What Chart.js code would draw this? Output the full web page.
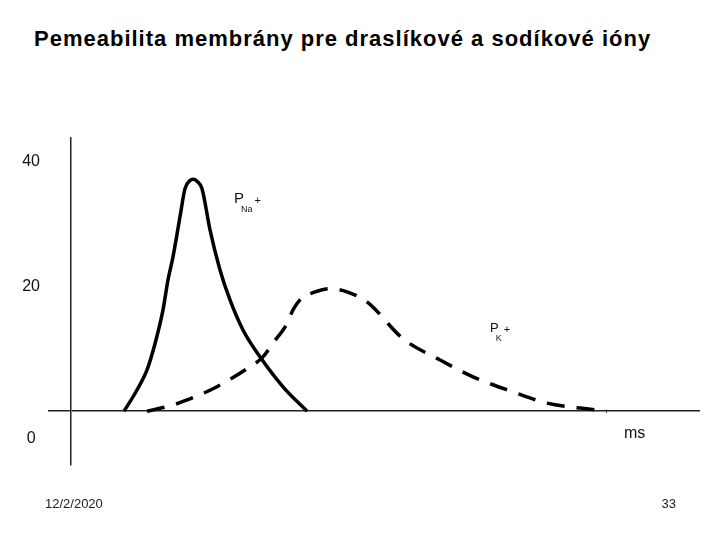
<!DOCTYPE html>
<html lang="sk">
<head>
    <meta charset="UTF-8">
    <title>Pemeabilita membrány</title>
    <style>
        * { margin: 0; padding: 0; box-sizing: border-box; }
        body { width: 720px; height: 540px; background: #fff; position: relative; overflow: hidden; font-family: "Liberation Sans", Arial, sans-serif; }
        #chart { position: absolute; left: 0; top: 0; }
        .title { position: absolute; left: 34px; top: 28px; font-size: 22px; line-height: 22px; font-weight: bold; letter-spacing: 1px; color: #000; white-space: nowrap; }
        .foot { position: absolute; top: 497px; font-size: 13px; line-height: 13px; color: #222; }
        .date { left: 45px; }
        .page { right: 44px; }
    </style>
</head>
<body>
    <div class="title">Pemeabilita membrány pre draslíkové a sodíkové ióny</div>
    <canvas id="chart" width="720" height="540"></canvas>
    <div class="foot date">12/2/2020</div>
    <div class="foot page">33</div>

    <script src="https://cdn.jsdelivr.net/npm/chart.js"></script>
    <script>
        // time (ms, arbitrary units) and permeability values
        const naTime = [5.3, 6.6, 7.6, 8.4, 9.2, 9.7, 10.2, 10.9, 11.4, 11.9, 12.2, 12.6, 13.1, 13.9, 14.9, 15.9, 17.2, 18.9, 21.2, 23.6];
        const naPerm = [0, 3.4, 6.6, 10.8, 16.2, 21.0, 24.7, 31.1, 35.6, 36.9, 37.1, 36.8, 35.6, 29.0, 22.6, 17.8, 13.0, 8.7, 3.9, 0];

        const kTime = [7.6, 10.2, 11.6, 14.2, 17.6, 19.2, 20.2, 21.6, 22.2, 23.2, 23.9, 25.9, 27.6, 29.6, 33.2, 36.9, 40.2, 44.2, 47.6, 50.9, 53.6];
        const kPerm = [0, 1.0, 1.8, 3.6, 6.8, 8.7, 10.9, 14.0, 16.2, 18.3, 18.8, 19.6, 19.1, 17.5, 11.6, 8.2, 5.5, 3.1, 1.3, 0.5, 0];

        // y tick labels; the "0" label sits below the time axis in the original
        const yTickValues = [40, 20, 0, -4.4];
        const yTickLabels = ['40', '20', '', '0'];

        // curve labels: [main, subscript, x, y]
        const curveLabels = [
            ['P', 'Na', 16.3, 33.3],
            ['P', 'K', 41.9, 12.7]
        ];
        const unitLabel = ['ms', 55.3, -4.3];

        const toPoints = (xs, ys) => xs.map((x, i) => ({ x: x, y: ys[i] }));

        const labelPlugin = {
            id: 'curveLabels',
            afterDraw(chart) {
                const ctx = chart.ctx;
                const xs = chart.scales.x, ys = chart.scales.y;
                ctx.save();
                ctx.fillStyle = '#111';
                ctx.textBaseline = 'alphabetic';
                ctx.textAlign = 'left';
                curveLabels.forEach(([main, sub, x, y], i) => {
                    const px = xs.getPixelForValue(x);
                    const py = ys.getPixelForValue(y);
                    const big = i === 0 ? 15 : 13;
                    ctx.font = big + 'px "Liberation Sans", Arial, sans-serif';
                    ctx.fillText(main, px, py);
                    const w = ctx.measureText(main).width;
                    ctx.font = '9px "Liberation Sans", Arial, sans-serif';
                    ctx.fillText(sub, px + w - 3, py + 9);
                    const sw = ctx.measureText(sub).width;
                    ctx.font = '11px "Liberation Sans", Arial, sans-serif';
                    ctx.fillText('+', px + w - 3 + sw + 2, py + 1);
                });
                ctx.font = '16px "Liberation Sans", Arial, sans-serif';
                ctx.fillText(unitLabel[0], xs.getPixelForValue(unitLabel[1]), ys.getPixelForValue(unitLabel[2]));
                ctx.restore();
            }
        };

        new Chart(document.getElementById('chart'), {
            type: 'line',
            data: {
                datasets: [
                    {
                        label: 'PNa+',
                        data: toPoints(naTime, naPerm),
                        borderColor: '#000',
                        borderWidth: 3.5,
                        pointRadius: 0,
                        cubicInterpolationMode: 'monotone',
                        fill: false
                    },
                    {
                        label: 'PK+',
                        data: toPoints(kTime, kPerm),
                        borderColor: '#000',
                        borderWidth: 3.5,
                        borderDash: [18, 12],
                        pointRadius: 0,
                        cubicInterpolationMode: 'monotone',
                        fill: false
                    }
                ]
            },
            options: {
                responsive: false,
                animation: false,
                layout: { padding: { top: 138, bottom: 75, left: 0, right: 20 } },
                plugins: {
                    legend: { display: false },
                    tooltip: { enabled: false }
                },
                scales: {
                    x: {
                        type: 'linear',
                        min: 0,
                        max: 62.9,
                        display: false
                    },
                    y: {
                        min: -8.6,
                        max: 43.7,
                        afterFit: s => { s.width = 71; },
                        afterBuildTicks: s => { s.ticks = yTickValues.map(v => ({ value: v })); },
                        border: { display: true, color: '#222', width: 1.5 },
                        grid: {
                            color: c => (c.tick && c.tick.value === 0) ? '#222' : 'rgba(0,0,0,0)',
                            lineWidth: 1.5,
                            tickLength: 23
                        },
                        ticks: {
                            autoSkip: false,
                            crossAlign: 'center',
                            padding: 8,
                            color: '#111',
                            font: { family: '"Liberation Sans", Arial, sans-serif', size: 16 },
                            callback: (v, i) => yTickLabels[i]
                        }
                    }
                }
            },
            plugins: [labelPlugin]
        });
    </script>
</body>
</html>
